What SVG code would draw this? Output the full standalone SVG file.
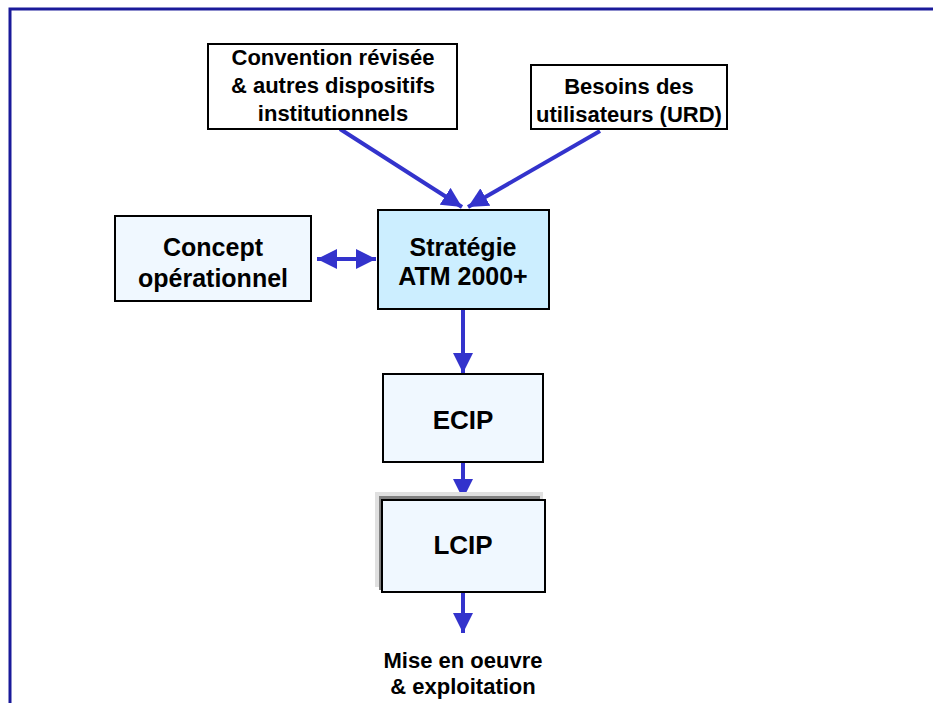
<svg xmlns="http://www.w3.org/2000/svg" width="933" height="703" viewBox="0 0 933 703">
<defs>
<style>
.box{stroke:#000;stroke-width:2}
.t{font-family:"Liberation Sans",Arial,sans-serif;font-weight:bold;fill:#000;text-anchor:middle}
.c{stroke:#3333cc;stroke-width:4;fill:none}
</style>
<marker id="ah" viewBox="0 0 10 10" refX="10" refY="5" markerWidth="5" markerHeight="5" orient="auto-start-reverse" markerUnits="strokeWidth">
<path d="M0,0 L10,5 L0,10 Z" fill="#3333cc"/>
</marker>
</defs>
<rect width="933" height="703" fill="#fff"/>
<path d="M10,703 V9 H933" fill="none" stroke="#1a1a9a" stroke-width="3"/>
<g id="connectors">
<line class="c" x1="340" y1="129" x2="462" y2="207" marker-end="url(#ah)"/>
<line class="c" x1="600" y1="131" x2="468" y2="207" marker-end="url(#ah)"/>
<line class="c" x1="317" y1="259" x2="376" y2="259" marker-start="url(#ah)" marker-end="url(#ah)"/>
<line class="c" x1="463" y1="309" x2="463" y2="373" marker-end="url(#ah)"/>
<line class="c" x1="463" y1="462" x2="463" y2="499" marker-end="url(#ah)"/>
<line class="c" x1="463" y1="592" x2="463" y2="633" marker-end="url(#ah)"/>
</g>
<g id="convention">
<rect class="box" x="208" y="44" width="249" height="85" fill="#fff"/>
<text class="t" font-size="22"><tspan x="333" y="65">Convention révisée</tspan><tspan x="333" y="93">&amp; autres dispositifs</tspan><tspan x="333" y="121">institutionnels</tspan></text>
</g>
<g id="besoins">
<rect class="box" x="531" y="65" width="196" height="64" fill="#fff"/>
<text class="t" font-size="22"><tspan x="629" y="94">Besoins des</tspan><tspan x="629" y="122">utilisateurs (URD)</tspan></text>
</g>
<g id="concept">
<rect class="box" x="115" y="216" width="196" height="85" fill="#f0f8ff"/>
<text class="t" font-size="25"><tspan x="213" y="256">Concept</tspan><tspan x="213" y="287">opérationnel</tspan></text>
</g>
<g id="strategie">
<rect class="box" x="378" y="210" width="171" height="99" fill="#cceeff"/>
<text class="t" font-size="25"><tspan x="463" y="256">Stratégie</tspan><tspan x="463" y="285">ATM 2000+</tspan></text>
</g>
<g id="ecip">
<rect class="box" x="383" y="374" width="160" height="88" fill="#f0f8ff"/>
<text class="t" font-size="26" x="463" y="429">ECIP</text>
</g>
<g id="lcip">
<rect x="375" y="492" width="168" height="95" fill="#e0e0e0"/>
<rect x="379" y="496" width="161" height="94" fill="#808080"/>
<rect class="box" x="382" y="500" width="163" height="92" fill="#f0f8ff"/>
<text class="t" font-size="26" x="463" y="554">LCIP</text>
</g>
<g id="mise">
<text class="t" font-size="22"><tspan x="463" y="668">Mise en oeuvre</tspan><tspan x="463" y="694">&amp; exploitation</tspan></text>
</g>
</svg>
